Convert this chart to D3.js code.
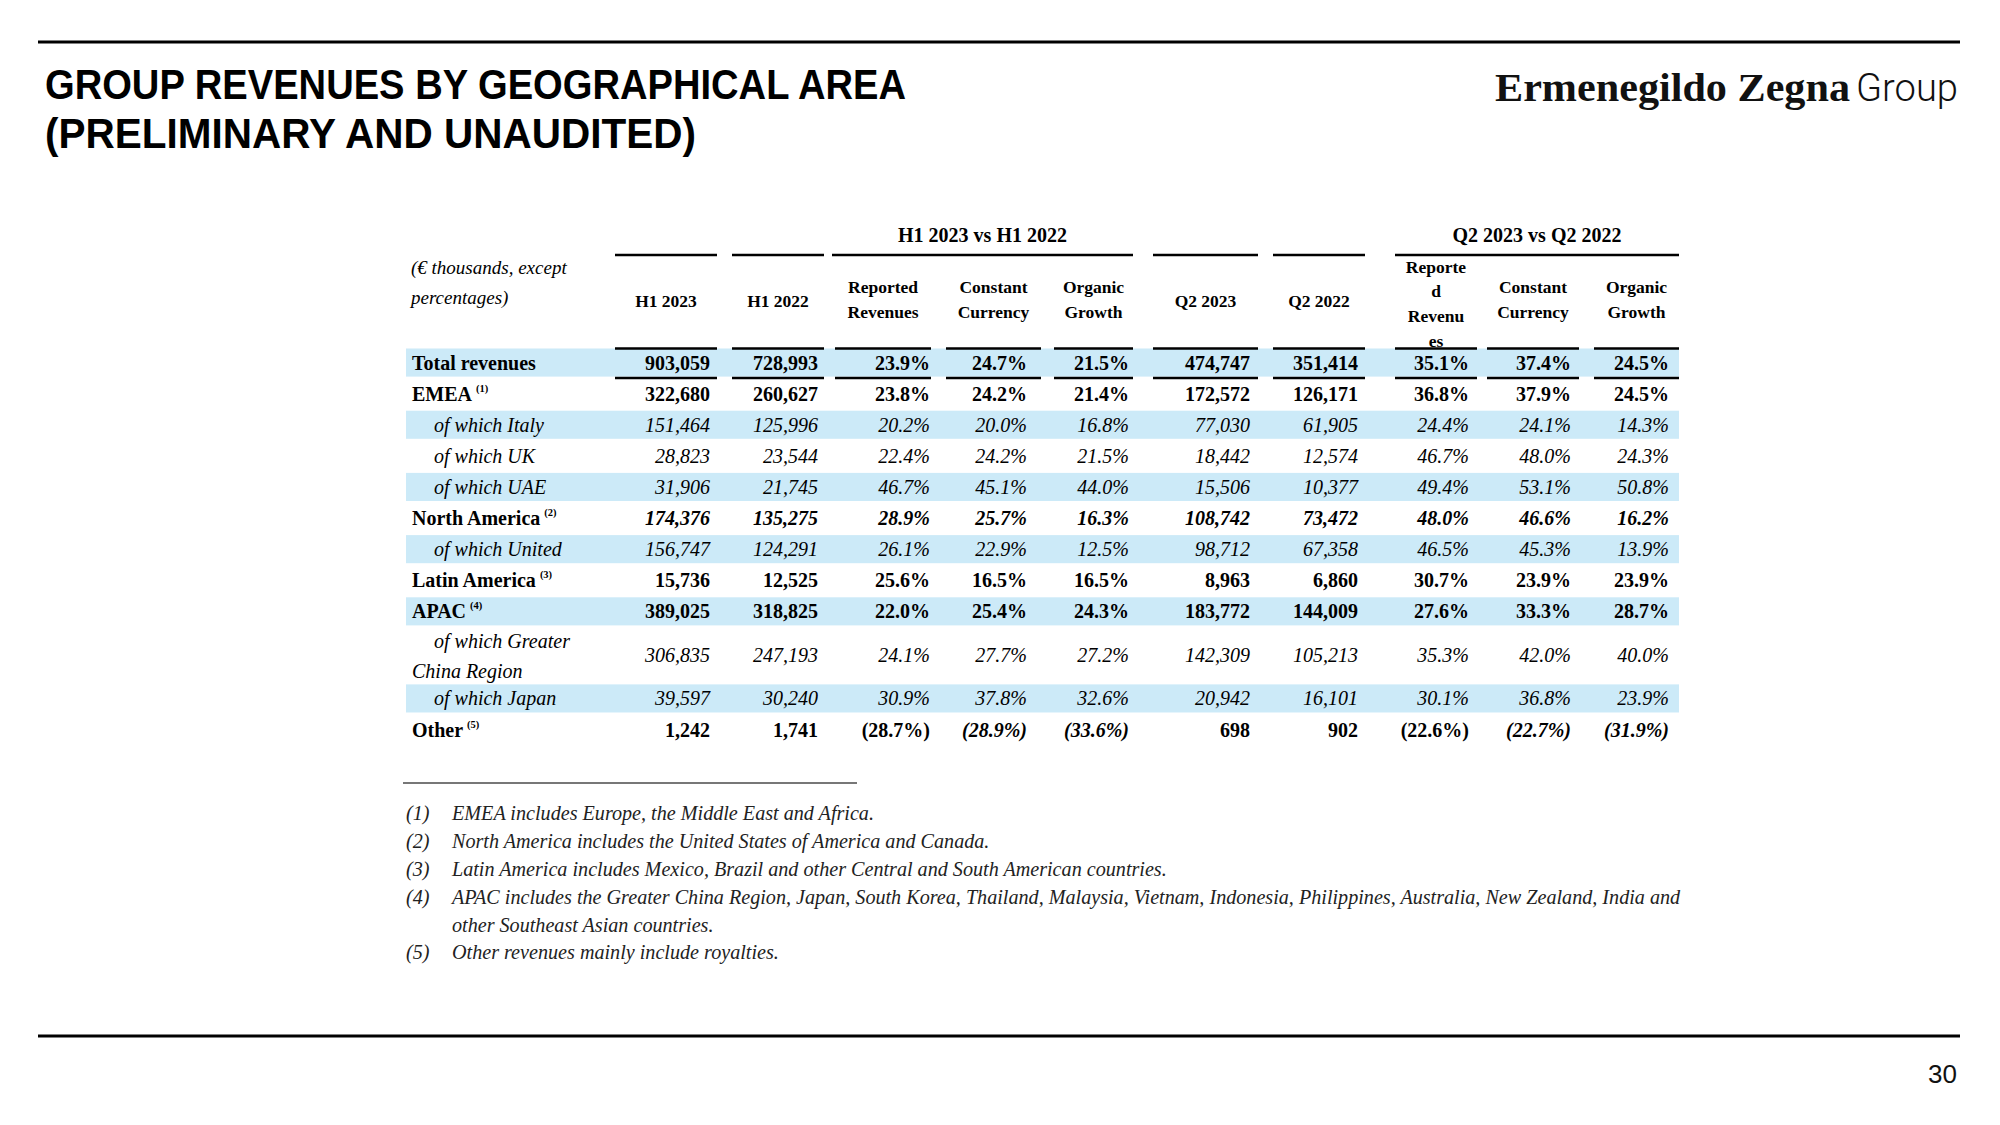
<!DOCTYPE html>
<html><head><meta charset="utf-8">
<script src="https://cdn.jsdelivr.net/npm/d3@7"></script>
<style>body{margin:0;background:#fff}svg{display:block}</style>
</head><body><svg id="c" width="2000" height="1125"></svg>
<script>
// ---------- DATA ----------
const categories = ["Total revenues","EMEA","of which Italy","of which UK","of which UAE","North America","of which United","Latin America","APAC","of which Greater\nChina Region","of which Japan","Other"];
const footRefs = ["","(1)","","","","(2)","","(3)","(4)","","","(5)"];
const h1_2023 = [903059,322680,151464,28823,31906,174376,156747,15736,389025,306835,39597,1242];
const h1_2022 = [728993,260627,125996,23544,21745,135275,124291,12525,318825,247193,30240,1741];
const h1_reported = [23.9,23.8,20.2,22.4,46.7,28.9,26.1,25.6,22.0,24.1,30.9,-28.7];
const h1_constant = [24.7,24.2,20.0,24.2,45.1,25.7,22.9,16.5,25.4,27.7,37.8,-28.9];
const h1_organic = [21.5,21.4,16.8,21.5,44.0,16.3,12.5,16.5,24.3,27.2,32.6,-33.6];
const q2_2023 = [474747,172572,77030,18442,15506,108742,98712,8963,183772,142309,20942,698];
const q2_2022 = [351414,126171,61905,12574,10377,73472,67358,6860,144009,105213,16101,902];
const q2_reported = [35.1,36.8,24.4,46.7,49.4,48.0,46.5,30.7,27.6,35.3,30.1,-22.6];
const q2_constant = [37.4,37.9,24.1,48.0,53.1,46.6,45.3,23.9,33.3,42.0,36.8,-22.7];
const q2_organic = [24.5,24.5,14.3,24.3,50.8,16.2,13.9,23.9,28.7,40.0,23.9,-31.9];
const columnHeaders = [["H1 2023"],["H1 2022"],["Reported","Revenues"],["Constant","Currency"],["Organic","Growth"],["Q2 2023"],["Q2 2022"],["Reporte","d","Revenu","es"],["Constant","Currency"],["Organic","Growth"]];
const groupHeaders = ["H1 2023 vs H1 2022","Q2 2023 vs Q2 2022"];
const footnotes = [
 ["(1)","EMEA includes Europe, the Middle East and Africa."],
 ["(2)","North America includes the United States of America and Canada."],
 ["(3)","Latin America includes Mexico, Brazil and other Central and South American countries."],
 ["(4)","APAC includes the Greater China Region, Japan, South Korea, Thailand, Malaysia, Vietnam, Indonesia, Philippines, Australia, New Zealand, India and"],
 ["","other Southeast Asian countries."],
 ["(5)","Other revenues mainly include royalties."]
];

// ---------- LAYOUT ----------
const svg = d3.select("#c");
const serif = "'Liberation Serif','Times New Roman',serif";
const shade = "#CCEAF8";

const colKeys = ["h1_2023","h1_2022","h1_rep","h1_cc","h1_org","q2_2023","q2_2022","q2_rep","q2_cc","q2_org"];
const series = [h1_2023,h1_2022,h1_reported,h1_constant,h1_organic,q2_2023,q2_2022,q2_reported,q2_constant,q2_organic];
const isPct = [false,false,true,true,true,false,false,true,true,true];
const xRight = d3.scaleOrdinal(colKeys,[710,818,930,1027,1129,1250,1358,1469,1571,1669]);
const xRule = d3.scaleOrdinal(colKeys,[[615,717],[732,824],[835,931],[946,1041],[1054,1133],[1153,1258],[1273,1365],[1395,1477],[1487,1579],[1594,1679]]);

const labelBold = [1,1,0,0,0,1,0,1,1,0,0,1];
const isSub = [0,0,1,1,1,0,1,0,0,1,1,0];
const shaded = [1,0,1,0,1,0,1,0,1,0,1,0];
const rowUnits = categories.map(c => c.includes("\n") ? 1.8 : 1);
const cum = [0]; rowUnits.forEach(u => cum.push(cum[cum.length-1] + u));
const y = d3.scaleLinear().domain([0, cum[cum.length-1]]).range([347, 347 + 31.1*cum[cum.length-1]]);

const fmtInt = d3.format(",");
const f1 = d3.format(".1f");
const fmtPct = v => v < 0 ? `(${f1(-v)}%)` : `${f1(v)}%`;

// page rules
[[42],[1036]].forEach(([yy]) => svg.append("line").attr("x1",38).attr("x2",1960).attr("y1",yy).attr("y2",yy).attr("stroke","#000").attr("stroke-width",3));

// title
const titleLines = [["GROUP REVENUES BY GEOGRAPHICAL AREA",99,861],["(PRELIMINARY AND UNAUDITED)",148,651]];
titleLines.forEach(([t,by,w]) => svg.append("text").attr("x",45).attr("y",by).text(t)
  .attr("font-family","'Liberation Sans',Arial,sans-serif").attr("font-weight",700).attr("font-size",43)
  .attr("textLength",w).attr("lengthAdjust","spacingAndGlyphs").attr("fill","#000"));

// logo
svg.append("text").attr("x",1495).attr("y",101).text("Ermenegildo Zegna")
  .attr("font-family",serif).attr("font-weight",700).attr("font-size",40)
  .attr("textLength",355).attr("lengthAdjust","spacingAndGlyphs").attr("fill","#111");
svg.append("text").attr("x",1856).attr("y",101).text("Group")
  .attr("font-family","Roboto,sans-serif").attr("font-weight",300).attr("font-size",39)
  .attr("textLength",102).attr("lengthAdjust","spacingAndGlyphs").attr("fill","#111");

// page number
svg.append("text").attr("x",1957).attr("y",1083).attr("text-anchor","end").text("30")
  .attr("font-family","'Liberation Sans',Arial,sans-serif").attr("font-size",26).attr("fill","#111");

// shading
const g = svg.append("g").attr("font-family",serif).attr("fill","#000");
categories.forEach((c,i) => {
  if (!shaded[i]) return;
  g.append("rect").attr("x",406).attr("width",1679-406).attr("y",y(cum[i])+1.5).attr("height",y(cum[i+1])-y(cum[i])-3).attr("fill",shade);
});

// unit caption
[["(€ thousands, except",274],["percentages)",304]].forEach(([t,by]) =>
  g.append("text").attr("x",411).attr("y",by).text(t).attr("font-style","italic").attr("font-size",19));

// group headers and rules
const groupSpans = [[832,1133],[1395,1679]];
groupHeaders.forEach((t,k) => {
  const [a,b] = groupSpans[k];
  g.append("text").attr("x",(a+b)/2).attr("y",242).attr("text-anchor","middle").text(t).attr("font-weight",700).attr("font-size",20);
  g.append("line").attr("x1",a).attr("x2",b).attr("y1",255).attr("y2",255).attr("stroke","#000").attr("stroke-width",2.5);
});
["h1_2023","h1_2022","q2_2023","q2_2022"].forEach(k => {
  const [a,b] = xRule(k);
  g.append("line").attr("x1",a).attr("x2",b).attr("y1",255).attr("y2",255).attr("stroke","#000").attr("stroke-width",2.5);
});

// column headers
colKeys.forEach((k,j) => {
  const [a,b] = xRule(k);
  const lines = columnHeaders[j];
  const starts = lines.length === 1 ? [307] : lines.length === 2 ? [293,318] : [273,297,322,347];
  lines.forEach((t,li) => g.append("text").attr("x",(a+b)/2).attr("y",starts[li]).attr("text-anchor","middle")
    .text(t).attr("font-weight",700).attr("font-size",17.5));
});

// rules around total row (drawn after headers so they overlap "es")
colKeys.forEach(k => {
  const [a,b] = xRule(k);
  [y(cum[0])+1.5, y(cum[1])].forEach(yy => g.append("line").attr("x1",a).attr("x2",b).attr("y1",yy).attr("y2",yy).attr("stroke","#000").attr("stroke-width",2.5));
});

// rows
categories.forEach((c,i) => {
  const cy = (y(cum[i]) + y(cum[i+1]))/2;
  const lines = c.split("\n");
  const lx = isSub[i] ? 434 : 412;
  let lbl;
  if (lines.length === 1) {
    lbl = g.append("text").attr("x",lx).attr("y",cy+7).text(c)
      .attr("font-weight",labelBold[i]?700:400).attr("font-style",isSub[i]?"italic":"normal").attr("font-size",20);
  } else {
    g.append("text").attr("x",lx).attr("y",cy-6.5).text(lines[0]).attr("font-style","italic").attr("font-size",20);
    g.append("text").attr("x",412).attr("y",cy+23.5).text(lines[1]).attr("font-style","italic").attr("font-size",20);
  }
  if (footRefs[i] && lbl) {
    const w = lbl.node().getComputedTextLength();
    g.append("text").attr("x",lx+w+4).attr("y",cy-2).text(footRefs[i]).attr("font-weight",700).attr("font-size",10.5);
  }
  colKeys.forEach((k,j) => {
    const v = series[j][i];
    let ital = isSub[i] === 1 || i === 5 || (i === 11 && (j===3||j===4||j===8||j===9));
    g.append("text").attr("x",xRight(k)).attr("y",cy+7).attr("text-anchor","end")
      .text(isPct[j] ? fmtPct(v) : fmtInt(v))
      .attr("font-weight",labelBold[i]?700:400).attr("font-style",ital?"italic":"normal").attr("font-size",20);
  });
});

// footnotes
g.append("line").attr("x1",403).attr("x2",857).attr("y1",783).attr("y2",783).attr("stroke","#777").attr("stroke-width",2);
const fy = [820,848,876,904,932,959];
let fs = 19;
const probe = g.append("text").attr("font-style","italic").attr("font-size",fs).attr("font-family",serif).text(footnotes[3][1]);
const nat = probe.node().getComputedTextLength(); probe.remove();
fs = fs * (1229/nat);
footnotes.forEach(([n,t],i) => {
  if (n) g.append("text").attr("x",406).attr("y",fy[i]).text(n).attr("font-style","italic").attr("font-size",fs).attr("fill","#222");
  g.append("text").attr("x",452).attr("y",fy[i]).text(t).attr("font-style","italic").attr("font-size",fs).attr("fill","#222");
});
</script></body></html>
